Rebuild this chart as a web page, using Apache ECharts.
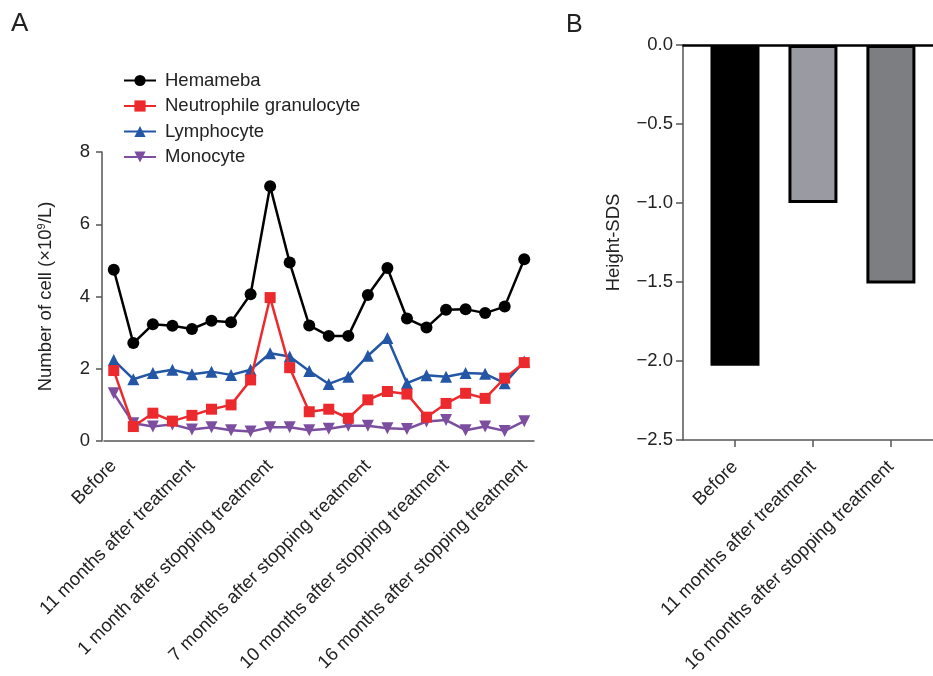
<!DOCTYPE html>
<html>
<head>
<meta charset="utf-8">
<script src="https://cdn.jsdelivr.net/npm/echarts@6/dist/echarts.min.js"></script>
<style>
  html, body { margin: 0; padding: 0; background: #fff; }
  #main { width: 933px; height: 676px; }
</style>
</head>
<body>
<div id="main"></div>
<script>
// panel A: blood cell counts over time (x10^9/L)
var timepoints = ['Before', '', '', '', '11 months after treatment', '', '', '',
  '1 month after stopping treatment', '', '', '', '', '7 months after stopping treatment',
  '', '', '', '10 months after stopping treatment', '', '', '', '16 months after stopping treatment'];
var hemameba = [4.74, 2.71, 3.23, 3.19, 3.10, 3.33, 3.29, 4.06, 7.05, 4.94, 3.20,
  2.91, 2.91, 4.04, 4.79, 3.39, 3.14, 3.63, 3.65, 3.54, 3.72, 5.03];
var neutrophile = [1.95, 0.40, 0.77, 0.55, 0.71, 0.88, 1.00, 1.69, 3.97, 2.03, 0.81,
  0.88, 0.63, 1.14, 1.37, 1.30, 0.66, 1.04, 1.32, 1.18, 1.74, 2.17];
var lymphocyte = [2.24, 1.71, 1.88, 1.97, 1.85, 1.92, 1.83, 1.97, 2.43, 2.34, 1.94,
  1.58, 1.78, 2.36, 2.85, 1.60, 1.82, 1.78, 1.88, 1.86, 1.60, 2.20];
var monocyte = [1.32, 0.49, 0.40, 0.46, 0.32, 0.38, 0.30, 0.26, 0.38, 0.38, 0.30,
  0.34, 0.42, 0.42, 0.35, 0.33, 0.54, 0.58, 0.30, 0.40, 0.28, 0.55];
var cellTicks = [0, 2, 4, 6, 8];

// panel B: height SDS
var sdsCategories = ['Before', '11 months after treatment', '16 months after stopping treatment'];
var heightSds = [-2.03, -1.00, -1.51];
var sdsTicks = [0, -0.5, -1.0, -1.5, -2.0, -2.5];

var font = 'Liberation Sans, Arial, Helvetica, sans-serif';
var textColor = '#222';
var axisColor = '#555';

function lineSeries(name, data, color, symbol, size, rotate, z) {
  return {
    name: name,
    type: 'line',
    xAxisIndex: 0,
    yAxisIndex: 0,
    data: data,
    symbol: symbol,
    symbolSize: size,
    symbolRotate: rotate,
    z: z,
    lineStyle: { color: color, width: 2.5 },
    itemStyle: { color: color },
    animation: false
  };
}

var myChart = echarts.init(document.getElementById('main'));
myChart.setOption({
  backgroundColor: '#fff',
  title: [
    { text: 'A', left: 6, top: 6, textStyle: { fontFamily: font, fontSize: 26, fontWeight: 'normal', color: textColor } },
    { text: 'B', left: 561, top: 8, textStyle: { fontFamily: font, fontSize: 25, fontWeight: 'normal', color: textColor } }
  ],
  legend: {
    orient: 'vertical',
    left: 118,
    top: 66,
    itemWidth: 32,
    itemHeight: 14,
    itemGap: 6.5,
    textStyle: { fontFamily: font, fontSize: 18.5, color: textColor, padding: [0, 0, 0, 4] },
    data: ['Hemameba', 'Neutrophile granulocyte', 'Lymphocyte', 'Monocyte']
  },
  grid: [
    { left: 104, top: 152, width: 430, bottom: 235 },
    { left: 683, top: 45, right: 0, bottom: 236 }
  ],
  xAxis: [
    {
      gridIndex: 0,
      type: 'category',
      data: timepoints,
      boundaryGap: true,
      axisLine: { lineStyle: { color: axisColor, width: 1.5 } },
      axisTick: { alignWithLabel: true, interval: 0, length: 7, lineStyle: { color: axisColor, width: 1.5 } },
      axisLabel: { interval: 0, rotate: 45, margin: 22, padding: [18, 0, 0, 0], fontFamily: font, fontSize: 18.5, color: textColor },
      splitLine: { show: false }
    },
    {
      gridIndex: 1,
      type: 'value',
      min: -0.667,
      max: 2.54,
      axisLine: { onZero: false, lineStyle: { color: axisColor, width: 1.5 } },
      axisTick: { customValues: [0, 1, 2], length: 7, lineStyle: { color: axisColor, width: 1.5 } },
      axisLabel: {
        customValues: [0, 1, 2],
        rotate: 45, margin: 24, padding: [18, 0, 0, 0], fontFamily: font, fontSize: 18.5, color: textColor,
        formatter: function (v) { return sdsCategories[Math.round(v)]; }
      },
      splitLine: { show: false }
    },
    {
      // zero line along the top of panel B
      gridIndex: 1,
      type: 'value',
      position: 'top',
      min: -0.667,
      max: 2.54,
      axisLine: { onZero: false, lineStyle: { color: '#000', width: 2.5 } },
      axisTick: { show: false },
      axisLabel: { show: false },
      splitLine: { show: false }
    }
  ],
  yAxis: [
    {
      gridIndex: 0,
      type: 'value',
      min: cellTicks[0],
      max: cellTicks[cellTicks.length - 1],
      interval: 2,
      offset: 2,
      name: '{a|Number of cell (×10}{s|9}{a|/L)}',
      nameLocation: 'middle',
      nameGap: 46,
      nameTextStyle: {
        rich: {
          a: { fontFamily: font, fontSize: 18.5, color: textColor },
          s: { fontFamily: font, fontSize: 11, color: textColor, verticalAlign: 'top', padding: [0, 0, 9, 0] }
        }
      },
      axisLine: { show: true, onZero: false, lineStyle: { color: axisColor, width: 1.5 } },
      axisTick: { show: true, length: 6, lineStyle: { color: axisColor, width: 1.5 } },
      axisLabel: { margin: 12, fontFamily: font, fontSize: 18.5, color: textColor },
      splitLine: { show: false }
    },
    {
      gridIndex: 1,
      type: 'value',
      min: sdsTicks[sdsTicks.length - 1],
      max: sdsTicks[0],
      interval: 0.5,
      name: 'Height-SDS',
      nameLocation: 'middle',
      nameGap: 60,
      nameTextStyle: { fontFamily: font, fontSize: 18.5, color: textColor },
      axisLine: { show: true, onZero: false, lineStyle: { color: axisColor, width: 1.5 } },
      axisTick: { show: true, length: 7, lineStyle: { color: axisColor, width: 1.5 } },
      axisLabel: {
        margin: 10, fontFamily: font, fontSize: 18.5, color: textColor,
        formatter: function (v) { return v.toFixed(1).replace('-', '\u2212'); }
      },
      splitLine: { show: false }
    }
  ],
  series: [
    lineSeries('Hemameba', hemameba, '#000000', 'circle', 12, 0, 5),
    lineSeries('Neutrophile granulocyte', neutrophile, '#ec2a2e', 'rect', 11, 0, 4),
    lineSeries('Lymphocyte', lymphocyte, '#2456a6', 'triangle', 12, 0, 3),
    lineSeries('Monocyte', monocyte, '#7c4e9f', 'triangle', 12, 180, 2),
    {
      type: 'bar',
      xAxisIndex: 1,
      yAxisIndex: 1,
      barWidth: 49,
      animation: false,
      data: heightSds.map(function (v, i) {
        var fills = ['#000000', '#9a9aa3', '#7d7e82'];
        return { value: [i, v], itemStyle: { color: fills[i], borderColor: '#000', borderWidth: 3 } };
      })
    }
  ]
});
</script>
</body>
</html>
